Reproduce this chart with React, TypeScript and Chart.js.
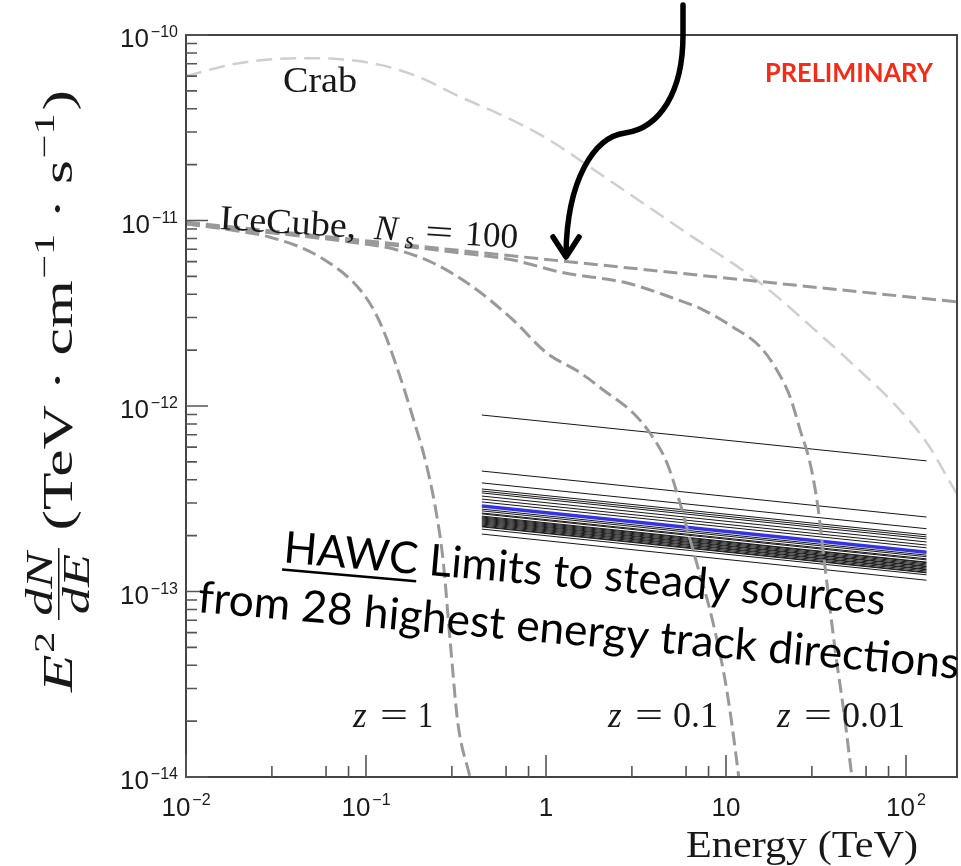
import { useEffect, useRef } from "react";
import { Chart, registerables } from "chart.js";

Chart.register(...registerables);

const WIDTH = 961;
const HEIGHT = 866;

// Energy range of the plot (TeV) and flux range (TeV cm^-1 s^-1)
const energyMin = 0.01;
const energyMax = 192;
const fluxMin = 1e-14;
const fluxMax = 1e-10;

// Crab Nebula spectrum
const crabEnergy = [0.01, 0.0175, 0.026, 0.043, 0.072, 0.12, 0.2, 0.33, 0.55, 0.99, 2.0, 5.8, 15.5, 36, 55, 85, 131, 182, 192];
const crabFlux = [6.0e-11, 6.9e-11, 7.3e-11, 7.5e-11, 7.4e-11, 6.9e-11, 5.9e-11, 4.66e-11, 3.75e-11, 2.8e-11, 1.78e-11, 8.8e-12, 4.6e-12, 2.27e-12, 1.56e-12, 1.04e-12, 6.3e-13, 3.66e-13, 3.36e-13];

// IceCube diffuse-flux source, N_s = 100, no absorption
const iceCubeEnergy = [0.01, 192];
const iceCubeFlux = [9.8e-12, 3.64e-12];

// Same source after EBL absorption, z = 1
const z1Energy = [0.01, 0.0175, 0.029, 0.0555, 0.096, 0.12, 0.155, 0.182, 0.218, 0.248, 0.268, 0.293, 0.324, 0.378, 0.41];
const z1Flux = [9.6e-12, 8.9e-12, 8.15e-12, 6.35e-12, 4.06e-12, 2.8e-12, 1.43e-12, 8.7e-13, 4.7e-13, 2.52e-13, 1.48e-13, 5.5e-14, 1.95e-14, 1.0e-14, 7e-15];

// z = 0.1
const z01Energy = [0.01, 0.043, 0.0815, 0.149, 0.236, 0.393, 0.656, 1.01, 1.55, 2.08, 3.04, 3.78, 4.7, 5.55, 6.56, 8.47, 10.1, 11.7, 12.0];
const z01Flux = [9.6e-12, 8.25e-12, 7.66e-12, 6.94e-12, 5.9e-12, 4.38e-12, 2.91e-12, 1.93e-12, 1.51e-12, 1.22e-12, 9.2e-13, 7.15e-13, 4.93e-13, 3.0e-13, 1.67e-13, 6.8e-14, 2.94e-14, 1.05e-14, 8.5e-15];

// z = 0.01
const z001Energy = [0.01, 0.155, 0.378, 0.656, 1.2, 2.82, 4.89, 7.45, 10.9, 15.5, 19.2, 22.7, 25.8, 29.3, 32.4, 34.6, 40.4, 45.8, 50.1, 52];
const z001Flux = [9.6e-12, 7.3e-12, 6.59e-12, 6.12e-12, 5.27e-12, 4.6e-12, 3.87e-12, 3.3e-12, 2.67e-12, 2.08e-12, 1.56e-12, 1.12e-12, 7.43e-13, 4.93e-13, 2.86e-13, 1.67e-13, 4.84e-14, 2.03e-14, 1.0e-14, 8e-15];

// HAWC upper limits for 28 track directions: value at the low and high end of the energy band
const hawcEnergy = [0.44, 130];
const hawcLimitLow = [8.94e-13, 4.46e-13, 3.85e-13, 3.57e-13, 3.48e-13, 3.4e-13, 3.27e-13, 3.15e-13, 3.04e-13, 2.78e-13, 2.72e-13, 2.65e-13, 2.62e-13, 2.55e-13, 2.52e-13, 2.49e-13, 2.46e-13, 2.43e-13, 2.4e-13, 2.37e-13, 2.34e-13, 2.31e-13, 2.28e-13, 2.25e-13, 2.23e-13, 2.17e-13, 2.04e-13];
const hawcLimitHigh = [5.06e-13, 2.52e-13, 2.18e-13, 2.02e-13, 1.97e-13, 1.92e-13, 1.85e-13, 1.78e-13, 1.72e-13, 1.57e-13, 1.54e-13, 1.5e-13, 1.48e-13, 1.44e-13, 1.43e-13, 1.41e-13, 1.39e-13, 1.37e-13, 1.36e-13, 1.34e-13, 1.32e-13, 1.31e-13, 1.29e-13, 1.27e-13, 1.26e-13, 1.23e-13, 1.15e-13];
const hawcHighlight = [2.89e-13, 1.63e-13];

// Axis tick labels (base and exponent)
const xTickValues = [0.01, 0.1, 1, 10, 100];
const xTickBase = ["10", "10", "1", "10", "10"];
const xTickExp = ["\u22122", "\u22121", "", "", "2"];
const yTickValues = [1e-14, 1e-13, 1e-12, 1e-11, 1e-10];
const yTickExp = ["\u221214", "\u221213", "\u221212", "\u221211", "\u221210"];

const SERIF = '"Liberation Serif", "Times New Roman", serif';
const SANS = '"Liberation Sans", Arial, sans-serif';
const CALIBRI_LIKE = 'Lato, "Open Sans", sans-serif';

const pts = (xs: number[], ys: number[]) => xs.map((x, i) => ({ x, y: ys[i] }));

function logTicks(min: number, max: number) {
  const out: { value: number; major: boolean }[] = [];
  for (let e = Math.floor(Math.log10(min)); e <= Math.ceil(Math.log10(max)); e++) {
    for (let m = 1; m <= 9; m++) {
      const v = m * Math.pow(10, e);
      if (v >= min * 0.9999 && v <= max * 1.0001) out.push({ value: v, major: m === 1 });
    }
  }
  return out;
}

function fillFit(ctx: CanvasRenderingContext2D, text: string, x: number, y: number, width: number) {
  const w = ctx.measureText(text).width;
  ctx.save();
  ctx.translate(x, y);
  ctx.scale(width / w, 1);
  ctx.fillText(text, 0, 0);
  ctx.restore();
}

function yTitle(ctx: CanvasRenderingContext2D, draw: boolean) {
  let x = 0;
  const it44 = `italic 42px ${SERIF}`;
  const rm44 = `42px ${SERIF}`;
  const rm30 = `29px ${SERIF}`;
  const it38 = `italic 37px ${SERIF}`;
  const put = (t: string, font: string, dy: number, after: number) => {
    ctx.font = font;
    if (draw) ctx.fillText(t, x, dy);
    x += ctx.measureText(t).width + after;
  };
  put("E", it44, 0, 1);
  put("2", rm30, -18, 8);
  ctx.font = it38;
  const wn = ctx.measureText("dN").width;
  const wd = ctx.measureText("dE").width;
  const fw = Math.max(wn, wd) + 6;
  if (draw) {
    ctx.fillText("dN", x + (fw - wn) / 2, -20);
    ctx.fillText("dE", x + (fw - wd) / 2, 17);
    ctx.fillRect(x, -14, fw, 1.5);
  }
  x += fw + 12;
  put("(TeV", rm44, 0, 10);
  put("\u00b7", rm44, 0, 10);
  put("cm", rm44, 0, 1);
  put("\u22121", rm30, -18, 10);
  put("\u00b7", rm44, 0, 10);
  put("s", rm44, 0, 1);
  put("\u22121", rm30, -18, 2);
  put(")", rm44, 0, 0);
  return x;
}

const decorations = {
  id: "decorations",
  afterDatasetsDraw(chart: any) {
    const { ctx, chartArea: a, scales } = chart;
    const xs = scales.x;
    const ys = scales.y;
    ctx.save();

    // frame
    ctx.strokeStyle = "#444";
    ctx.lineWidth = 2;
    ctx.strokeRect(a.left, a.top, a.right - a.left, a.bottom - a.top);

    // inward ticks on the bottom and left axes
    ctx.strokeStyle = "#555";
    ctx.lineWidth = 1.6;
    ctx.beginPath();
    for (const t of xs.ticks) {
      const px = xs.getPixelForValue(t.value);
      const len = t.major ? 22 : 11;
      ctx.moveTo(px, a.bottom);
      ctx.lineTo(px, a.bottom - len);
    }
    for (const t of ys.ticks) {
      const py = ys.getPixelForValue(t.value);
      const len = t.major ? 22 : 11;
      ctx.moveTo(a.left, py);
      ctx.lineTo(a.left + len, py);
    }
    ctx.stroke();

    // tick labels
    ctx.fillStyle = "#1a1a1a";
    ctx.textBaseline = "alphabetic";
    ctx.textAlign = "left";
    const baseFont = `26px ${SANS}`;
    const expFont = `16px ${SANS}`;
    xTickValues.forEach((v, i) => {
      const px = xs.getPixelForValue(v);
      ctx.font = baseFont;
      const wb = ctx.measureText(xTickBase[i]).width;
      ctx.font = expFont;
      const we = xTickExp[i] ? ctx.measureText(xTickExp[i]).width + 2 : 0;
      const start = px - (wb + we) / 2;
      ctx.font = baseFont;
      ctx.fillText(xTickBase[i], start, a.bottom + 39);
      if (xTickExp[i]) {
        ctx.font = expFont;
        ctx.fillText(xTickExp[i], start + wb + 2, a.bottom + 28);
      }
    });
    yTickValues.forEach((v, i) => {
      const py = ys.getPixelForValue(v);
      ctx.font = expFont;
      const we = ctx.measureText(yTickExp[i]).width;
      ctx.font = baseFont;
      const wb = ctx.measureText("10").width;
      const right = a.left - 8;
      ctx.fillText("10", right - we - 2 - wb, py + 12);
      ctx.font = expFont;
      ctx.fillText(yTickExp[i], right - we, py + 2);
    });

    // axis titles
    ctx.fillStyle = "#181818";
    ctx.font = `38px ${SERIF}`;
    fillFit(ctx, "Energy (TeV)", 686, 857, 232);

    ctx.save();
    ctx.translate(72, 692);
    ctx.rotate(-Math.PI / 2);
    const total = yTitle(ctx, false);
    ctx.scale(602 / total, 1);
    yTitle(ctx, true);
    ctx.restore();

    // curve labels
    ctx.font = `35px ${SERIF}`;
    fillFit(ctx, "Crab", 283, 92, 74);

    ctx.save();
    ctx.translate(219, 229);
    ctx.rotate(0.064);
    ctx.font = `35px ${SERIF}`;
    fillFit(ctx, "IceCube,", 0, 0, 137);
    ctx.font = `italic 35px ${SERIF}`;
    ctx.fillText("N", 155, 0);
    ctx.font = `italic 24px ${SERIF}`;
    ctx.fillText("s", 186, 7);
    ctx.font = `35px ${SERIF}`;
    fillFit(ctx, "=", 206, 0, 28);
    fillFit(ctx, "100", 246, 0, 53);
    ctx.restore();

    const zLabels: [number, string, number][] = [
      [353, "1", 15],
      [608, "0.1", 45],
      [777, "0.01", 63],
    ];
    for (const [x0, val, w] of zLabels) {
      ctx.font = `italic 35px ${SERIF}`;
      ctx.fillText("z", x0, 727);
      ctx.font = `35px ${SERIF}`;
      fillFit(ctx, "=", x0 + 27, 727, 28);
      fillFit(ctx, val, x0 + 65, 727, w);
    }

    // preliminary stamp
    ctx.fillStyle = "#f52a17";
    ctx.font = `bold 26px ${CALIBRI_LIKE}`;
    fillFit(ctx, "PRELIMINARY", 765, 82, 168);

    // HAWC caption
    ctx.fillStyle = "#000";
    ctx.save();
    ctx.translate(197, 612);
    ctx.rotate(0.0873);
    ctx.font = `44px ${CALIBRI_LIKE}`;
    fillFit(ctx, "from 28 highest energy track directions", 0, 0, 764);
    const line1 = "HAWC Limits to steady sources";
    const w1 = ctx.measureText(line1).width;
    const k = 604 / w1;
    fillFit(ctx, line1, 81, -57, 604);
    const wHawc = ctx.measureText("HAWC").width * k;
    ctx.fillRect(81, -57 + 6, wHawc, 2.5);
    ctx.restore();

    // arrow
    ctx.strokeStyle = "#000";
    ctx.lineWidth = 5.5;
    ctx.lineCap = "round";
    ctx.lineJoin = "round";
    ctx.beginPath();
    ctx.moveTo(683, 5);
    ctx.lineTo(683, 35);
    ctx.bezierCurveTo(683, 92, 660, 128, 625, 133);
    ctx.bezierCurveTo(594, 137, 567, 180, 566, 254);
    ctx.stroke();
    ctx.beginPath();
    ctx.moveTo(553, 237);
    ctx.lineTo(566, 257);
    ctx.lineTo(579, 237);
    ctx.stroke();

    ctx.restore();
  },
};

export default function App() {
  const canvasRef = useRef<HTMLCanvasElement | null>(null);

  useEffect(() => {
    const canvas = canvasRef.current;
    if (!canvas) return;

    const gray = "#999999";
    const grayCurve = (label: string, xs: number[], ys: number[]) => ({
      label,
      data: pts(xs, ys),
      borderColor: gray,
      borderWidth: 3,
      borderDash: [14, 6],
      pointRadius: 0,
      cubicInterpolationMode: "monotone" as const,
      order: 0,
    });

    const hawcSets = hawcLimitLow.map((lo, i) => ({
      label: `HAWC ${i + 1}`,
      data: pts(hawcEnergy, [lo, hawcLimitHigh[i]]),
      borderColor: "#161616",
      borderWidth: 1,
      pointRadius: 0,
      order: 3,
    }));

    const chart = new Chart(canvas, {
      type: "line",
      data: {
        datasets: [
          grayCurve("IceCube, N_s = 100", iceCubeEnergy, iceCubeFlux),
          grayCurve("z = 1", z1Energy, z1Flux),
          grayCurve("z = 0.1", z01Energy, z01Flux),
          grayCurve("z = 0.01", z001Energy, z001Flux),
          {
            label: "Crab",
            data: pts(crabEnergy, crabFlux),
            borderColor: "#cfcfcf",
            borderWidth: 2.5,
            borderDash: [16, 8],
            pointRadius: 0,
            cubicInterpolationMode: "monotone" as const,
            order: 1,
          },
          {
            label: "HAWC highlighted",
            data: pts(hawcEnergy, hawcHighlight),
            borderColor: "#3434e6",
            borderWidth: 3.5,
            pointRadius: 0,
            order: 2,
          },
          ...hawcSets,
        ],
      },
      options: {
        responsive: false,
        maintainAspectRatio: false,
        animation: false,
        layout: { padding: { left: 186, top: 35, right: 4, bottom: 89 } },
        plugins: { legend: { display: false }, tooltip: { enabled: false } },
        scales: {
          x: {
            type: "logarithmic",
            min: energyMin,
            max: energyMax,
            display: false,
            afterBuildTicks: (s: any) => {
              s.ticks = logTicks(energyMin, energyMax);
            },
          },
          y: {
            type: "logarithmic",
            min: fluxMin,
            max: fluxMax,
            display: false,
            afterBuildTicks: (s: any) => {
              s.ticks = logTicks(fluxMin, fluxMax);
            },
          },
        },
      },
      plugins: [decorations],
    });

    return () => chart.destroy();
  }, []);

  return (
    <div style={{ position: "absolute", left: 0, top: 0, width: WIDTH, height: HEIGHT, background: "#fff" }}>
      <canvas ref={canvasRef} width={WIDTH} height={HEIGHT} style={{ display: "block" }} />
    </div>
  );
}
